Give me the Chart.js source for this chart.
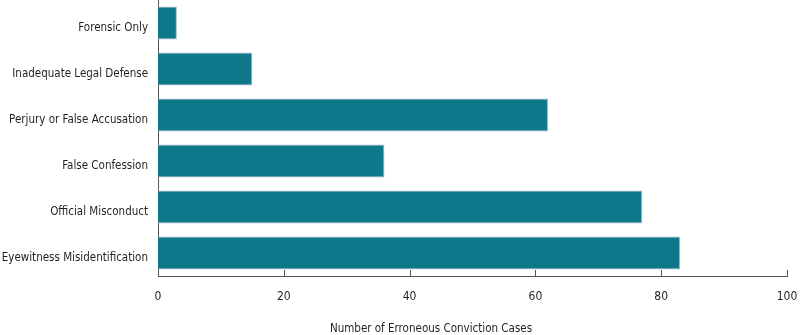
<!DOCTYPE html>
<html>
<head>
<meta charset="utf-8">
<script src="https://cdn.jsdelivr.net/npm/chart.js@4"></script>
<style>
html,body{margin:0;padding:0;background:#fff;}
#wrap{position:relative;width:800px;height:335px;}
#xTitle{position:absolute;left:431px;top:328px;transform:translate(-50%,-50%);white-space:nowrap;
  font-family:'DejaVu Sans',sans-serif;font-stretch:condensed;font-size:11.5px;color:#231f20;}
</style>
</head>
<body>
<div id="wrap">
<canvas id="c" width="800" height="335"></canvas>
<div id="xTitle">Number of Erroneous Conviction Cases</div>
</div>
<script>
// 資料
const categories=['Forensic Only','Inadequate Legal Defense','Perjury or False Accusation','False Confession','Official Misconduct','Eyewitness Misidentification'];
const caseCounts=[3,15,62,36,77,83];
const xTicks=[0,20,40,60,80,100];

const FONT="'DejaVu Sans',sans-serif";
const INK='#231f20';

// 畫布字體改窄體（每次設定 font 後補上 fontStretch）
const canvas=document.getElementById('c');
const c2d=canvas.getContext('2d');
const fontDesc=Object.getOwnPropertyDescriptor(CanvasRenderingContext2D.prototype,'font');
Object.defineProperty(c2d,'font',{
  get(){return fontDesc.get.call(this);},
  set(v){fontDesc.set.call(this,v);if('fontStretch' in this)this.fontStretch='condensed';}
});

// x 軸刻度向內畫
const innerTicks={
  id:'innerTicks',
  afterDraw(chart){
    const x=chart.scales.x,ctx=chart.ctx,b=chart.chartArea.bottom;
    ctx.save();
    ctx.strokeStyle='#555';ctx.lineWidth=1;
    xTicks.forEach(v=>{
      const px=Math.round(x.getPixelForValue(v))+0.5;
      ctx.beginPath();ctx.moveTo(px,b-6);ctx.lineTo(px,b);ctx.stroke();
    });
    ctx.restore();
  }
};

new Chart(c2d,{
  type:'bar',
  data:{labels:categories,datasets:[{
    data:caseCounts,
    backgroundColor:'#0e778a',
    borderColor:'#9db9c2',
    borderWidth:1,
    borderSkipped:'left',
    categoryPercentage:1,
    barPercentage:0.72
  }]},
  options:{
    indexAxis:'y',
    responsive:false,
    animation:false,
    devicePixelRatio:1,
    layout:{padding:{top:0,right:13,left:0,bottom:0}},
    plugins:{legend:{display:false},tooltip:{enabled:false}},
    scales:{
      x:{
        min:0,max:100,
        afterBuildTicks:s=>{s.ticks=xTicks.map(v=>({value:v}));},
        afterFit:s=>{s.height=59;s.paddingLeft=0;s.paddingRight=0;},
        grid:{display:false,drawTicks:false},
        border:{display:true,color:'#555',width:1},
        ticks:{padding:14,color:INK,font:{family:FONT,size:12}}
      },
      y:{
        afterFit:s=>{s.width=158;s.paddingTop=0;s.paddingBottom=0;},
        grid:{display:false,drawTicks:false},
        border:{display:true,color:'#555',width:1},
        ticks:{padding:10,labelOffset:5,color:INK,font:{family:FONT,size:11.5}}
      }
    }
  },
  plugins:[innerTicks]
});
</script>
</body>
</html>
